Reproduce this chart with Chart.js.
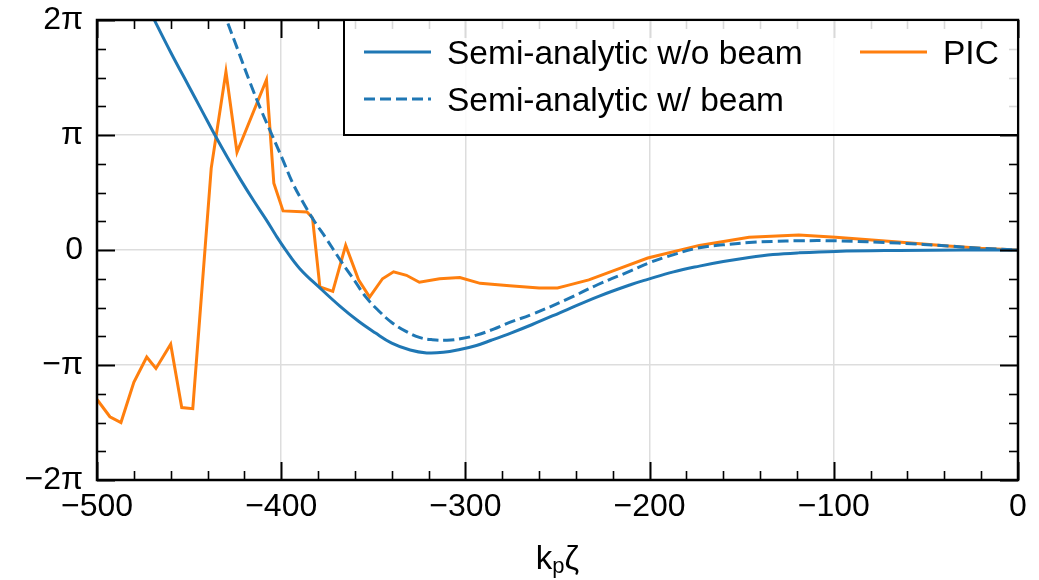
<!DOCTYPE html>
<html>
<head>
<meta charset="utf-8">
<style>
  body { margin: 0; background: #fff; }
  canvas { display: block; }
</style>
<script src="https://cdn.jsdelivr.net/npm/chart.js@4.4.1/dist/chart.umd.min.js"></script>
<script type="text/javascript">
// phase values are in units of pi
var zetaNoBeam  = [-472, -460, -450, -443, -436, -429, -422, -415, -408, -403, -398, -390, -379, -368, -358, -349, -340, -330, -321, -312, -303, -294, -286, -275, -264, -245, -228, -210, -201, -187, -173, -160, -146, -133, -119, -99, -65, -30, 0];
var phaseNoBeam = [2.10, 1.72, 1.42, 1.21, 1.00, 0.80, 0.61, 0.43, 0.26, 0.13, 0.01, -0.16, -0.33, -0.49, -0.62, -0.72, -0.81, -0.87, -0.895, -0.89, -0.865, -0.83, -0.785, -0.72, -0.65, -0.52, -0.405, -0.30, -0.255, -0.19, -0.14, -0.10, -0.065, -0.04, -0.025, -0.012, -0.004, 0, 0];

var zetaBeam  = [-432, -424, -417, -411, -405, -399, -394, -388, -382, -376, -367, -360, -354, -347, -340, -332, -325, -318, -310, -302, -294, -285, -276, -264, -245, -228, -210, -200, -191, -173, -160, -146, -133, -119, -99, -65, -38, -20, 0];
var phaseBeam = [2.10, 1.76, 1.46, 1.22, 1.00, 0.78, 0.59, 0.41, 0.25, 0.11, -0.11, -0.27, -0.41, -0.53, -0.63, -0.71, -0.76, -0.78, -0.785, -0.77, -0.74, -0.69, -0.63, -0.56, -0.43, -0.30, -0.18, -0.11, -0.06, 0.02, 0.045, 0.065, 0.075, 0.08, 0.08, 0.06, 0.035, 0.015, 0];

var zetaPIC  = [-500, -493, -487, -480, -473, -468, -460, -454, -448, -438, -430, -424, -408, -404, -399, -386, -383, -379, -372, -365, -358, -352, -345, -339, -332, -325, -314, -303, -292, -276, -260, -250, -245, -233, -218, -201, -173, -146, -119, -99, -65, -38, -20, 0];
var phasePIC = [-1.30, -1.45, -1.50, -1.15, -0.93, -1.03, -0.82, -1.37, -1.38, 0.71, 1.55, 0.85, 1.48, 0.58, 0.34, 0.33, 0.28, -0.32, -0.36, 0.04, -0.26, -0.41, -0.25, -0.19, -0.22, -0.28, -0.25, -0.24, -0.29, -0.31, -0.33, -0.33, -0.31, -0.26, -0.17, -0.07, 0.04, 0.11, 0.13, 0.11, 0.07, 0.035, 0.015, 0];

var yTickLabels = { '2': '2π', '1': 'π', '0': '0', '-1': '−π', '-2': '−2π' };
var xTitle = ['k', 'p', 'ζ'];

var blue = '#1f77b4';
var orange = '#ff7f0e';
var font = '"Liberation Sans", Arial, sans-serif';

function pts(xs, ys) {
	var out = [];
	for (var i = 0; i < xs.length; i++) out.push({ x: xs[i], y: ys[i] });
	return out;
}

// inward ticks on all four sides + frame
var frameTicks = {
	id: 'frameTicks',
	afterDatasetsDraw: function (chart) {
		var ctx = chart.ctx, a = chart.chartArea, x = chart.scales.x, y = chart.scales.y;
		ctx.save();
		ctx.strokeStyle = '#000';
		function seg(x1, y1, x2, y2) { ctx.beginPath(); ctx.moveTo(x1, y1); ctx.lineTo(x2, y2); ctx.stroke(); }
		for (var v = -500; v <= 0; v += 20) {
			var px = Math.round(x.getPixelForValue(v)) + 0.5;
			var major = v % 100 === 0;
			var len = major ? 18 : 9;
			ctx.lineWidth = major ? 2 : 1.6;
			seg(px, a.bottom, px, a.bottom - len);
			seg(px, a.top, px, a.top + len);
		}
		for (var k = -8; k <= 8; k++) {
			var py = Math.round(y.getPixelForValue(k / 4)) + 0.5;
			var maj = k % 4 === 0;
			var l = maj ? 18 : 9;
			ctx.lineWidth = maj ? 2 : 1.6;
			seg(a.left, py, a.left + l, py);
			seg(a.right, py, a.right - l, py);
		}
		ctx.lineWidth = 2.5;
		ctx.strokeRect(a.left, a.top, a.right - a.left, a.bottom - a.top);

		// x axis title with subscript
		ctx.fillStyle = '#000';
		ctx.textBaseline = 'alphabetic';
		ctx.font = '33px ' + font;
		var w1 = ctx.measureText(xTitle[0]).width;
		var w3 = ctx.measureText(xTitle[2]).width;
		ctx.font = '22px ' + font;
		var w2 = ctx.measureText(xTitle[1]).width;
		var cx = (a.left + a.right) / 2 - (w1 + w2 + w3) / 2;
		ctx.font = '33px ' + font;
		ctx.fillText(xTitle[0], cx, 569);
		ctx.font = '22px ' + font;
		ctx.fillText(xTitle[1], cx + w1, 573);
		ctx.font = '33px ' + font;
		ctx.fillText(xTitle[2], cx + w1 + w2, 569);
		ctx.restore();
	},
	afterDraw: function (chart) {
		var ctx = chart.ctx, a = chart.chartArea, ds = chart.data.datasets;
		ctx.save();
		var bx = 344, by = a.top, bw = a.right - 344, bh = 115;
		ctx.fillStyle = 'rgba(255,255,255,0.85)';
		ctx.fillRect(bx, by, bw, bh);
		ctx.strokeStyle = '#000';
		ctx.lineWidth = 2;
		ctx.strokeRect(bx, by, bw, bh);
		var slots = [[0, 364, 52], [1, 364, 99], [2, 860, 52]];
		ctx.font = '33.5px ' + font;
		ctx.textBaseline = 'alphabetic';
		slots.forEach(function (s) {
			var d = ds[s[0]];
			ctx.strokeStyle = d.borderColor;
			ctx.lineWidth = d.borderWidth;
			ctx.setLineDash(d.borderDash || []);
			ctx.beginPath();
			ctx.moveTo(s[1], s[2]);
			ctx.lineTo(s[1] + 67, s[2]);
			ctx.stroke();
			ctx.setLineDash([]);
			ctx.fillStyle = '#000';
			ctx.fillText(d.label, s[1] + 83, s[2] + 12);
		});
		ctx.restore();
	}
};

document.addEventListener("DOMContentLoaded", function () {
	var ctx = document.getElementById('phaseChart');
	new Chart(ctx, {
		type: 'line',
		data: {
			datasets: [{
				label: 'Semi-analytic w/o beam',
				data: pts(zetaNoBeam, phaseNoBeam),
				borderColor: blue,
				borderWidth: 3,
				pointRadius: 0,
				tension: 0.4
			}, {
				label: 'Semi-analytic w/ beam',
				data: pts(zetaBeam, phaseBeam),
				borderColor: blue,
				borderWidth: 3,
				borderDash: [11, 5],
				pointRadius: 0,
				tension: 0.4
			}, {
				label: 'PIC',
				data: pts(zetaPIC, phasePIC),
				borderColor: orange,
				borderWidth: 3,
				pointRadius: 0,
				tension: 0
			}]
		},
		options: {
			responsive: false,
			animation: false,
			devicePixelRatio: 1,
			layout: { padding: { top: 20, right: 21, left: 0, bottom: 0 }, autoPadding: false },
			scales: {
				x: {
					type: 'linear',
					min: -500,
					max: 0,
					afterFit: function (s) { s.height = 100; s.paddingLeft = 0; s.paddingRight = 0; },
					border: { display: false },
					grid: { color: '#dddddd', lineWidth: 1.5, drawTicks: false },
					ticks: {
						stepSize: 100,
						padding: 8,
						color: '#000',
						font: { family: font, size: 32 },
						maxRotation: 0,
						callback: function (v) { return v < 0 ? '−' + Math.abs(v) : String(v); }
					}
				},
				y: {
					min: -2,
					max: 2,
					afterFit: function (s) { s.width = 97; s.paddingTop = 0; s.paddingBottom = 0; },
					border: { display: false },
					grid: { color: '#dddddd', lineWidth: 1.5, drawTicks: false },
					ticks: {
						stepSize: 1,
						padding: 14,
						color: '#000',
						font: { family: font, size: 32 },
						callback: function (v) { return yTickLabels[String(v)]; }
					}
				}
			},
			plugins: {
				legend: { display: false },
				tooltip: { enabled: false }
			}
		},
		plugins: [frameTicks]
	});
});
</script>
</head>
<body>
<canvas id="phaseChart" width="1039" height="580"></canvas>
</body>
</html>
